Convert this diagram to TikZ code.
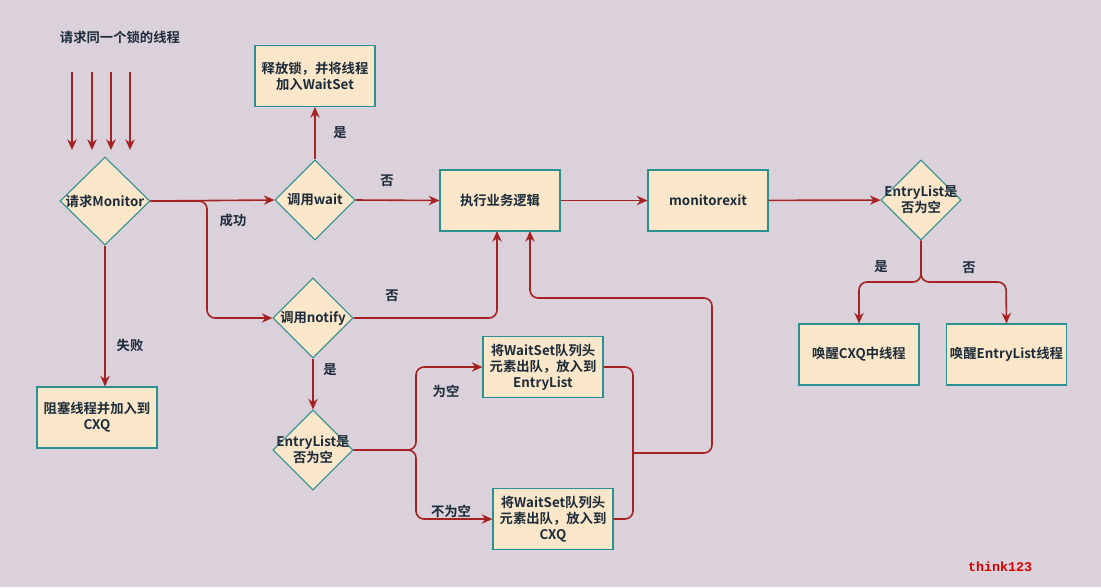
\documentclass[tikz,border=0pt]{standalone}
\usepackage{fontspec}
\setmainfont{Noto Sans CJK SC}[BoldFont={Noto Sans CJK SC Bold}]
\setmonofont{Liberation Mono}
\usetikzlibrary{shapes.geometric,arrows.meta}
\definecolor{bg}{HTML}{DBD1DA}
\definecolor{fillc}{HTML}{FAE6C8}
\definecolor{bord}{HTML}{2A9090}
\definecolor{arr}{HTML}{A52222}
\definecolor{txt}{HTML}{1C2B3A}
\begin{document}
\begin{tikzpicture}[x=0.75pt,y=-0.75pt,
  font=\bfseries\fontsize{10}{12}\selectfont, text=txt,
  box/.style={draw=bord,fill=fillc,line width=0.8pt,minimum width=90pt,minimum height=45.75pt,align=center,inner sep=1pt},
  dia/.style={draw=bord,fill=fillc,line width=0.8pt,diamond,minimum width=60pt,minimum height=60pt,align=center,inner sep=0pt},
  con/.style={draw=arr,line width=1.2pt,rounded corners=6pt},
  ar/.style={con,-{Stealth[length=8pt,width=7pt]}},
  lab/.style={text=txt}]
\fill[bg] (0,0) rectangle (1101,587);
\node[lab] (title) at (120,37) {请求同一个锁的线程};
\foreach \x/\n in {72/a,92/b,111/c,130/d}{
  \coordinate (s\n) at (\x,72); \coordinate (e\n) at (\x,150);
  \draw[ar] (s\n) -- (e\n);}
\node[dia,minimum width=67.5pt,minimum height=66pt,inner sep=-9pt] (req) at (105,201) {请求Monitor};
\node[dia,inner sep=-4pt] (wait) at (315,200) {调用wait};
\node[box] (rel) at (315,76) {释放锁，并将线程\\加入WaitSet};
\node[box] (exec) at (500,200.5) {执行业务逻辑};
\node[box] (mexit) at (708,200.5) {monitorexit};
\node[dia,inner sep=-10pt] (el1) at (921,200) {EntryList是\\否为空};
\node[box] (cxq) at (859,354.5) {唤醒CXQ中线程};
\node[box] (wel) at (1006.5,354.5) {唤醒EntryList线程};
\node[dia,inner sep=-8pt] (notify) at (313,318) {调用notify};
\node[dia,inner sep=-10pt] (el2) at (313,450) {EntryList是\\否为空};
\node[box] (b1) at (543,367) {将WaitSet队列头\\元素出队，放入到\\EntryList};
\node[box] (b2) at (553,519) {将WaitSet队列头\\元素出队，放入到\\CXQ};
\node[box] (blk) at (97,417.5) {阻塞线程并加入到\\CXQ};
\draw[ar] (req.east) -- (wait.west);
\draw[ar] (req.east) -| (207,318) -- (notify.west);
\node[lab] at (233,220) {成功};
\draw[ar] (req.south) -- (req.south |- blk.north);
\node[lab] at (130,345) {失败};
\draw[ar] (wait.north) -- (rel.south);
\node[lab] at (340,133) {是};
\draw[ar] (wait.east) -- (exec.west);
\node[lab] at (387,181) {否};
\draw[ar] (exec) -- (mexit);
\draw[ar] (mexit) -- (el1);
\draw[ar] (notify.east) -| (497,231);
\node[lab] at (392,296) {否};
\draw[ar] (notify.south) -- (el2.north);
\node[lab] at (330,370) {是};
\draw[ar] (el2.east) -- (416,450) |- (b1.west);
\node[lab] at (446,391) {为空};
\draw[ar] (el2.east) -- (416,450) |- (b2.west);
\node[lab] at (451,511) {不为空};
\draw[con] (b1.east) -| (633,453) |- (b2.east);
\draw[ar] (633,453) -| (712,298) -| (530,231);
\draw[ar] (el1.south) |- (859,282) -- (cxq.north);
\draw[ar] (el1.south) |- (1006,282) -- (wel.north);
\node[lab] at (881,267) {是};
\node[lab] at (969,268) {否};
\node[text=red!85!black,font=\ttfamily\bfseries\fontsize{10}{12}\selectfont] (sig) at (1000,567) {think123};
\end{tikzpicture}
\end{document}
